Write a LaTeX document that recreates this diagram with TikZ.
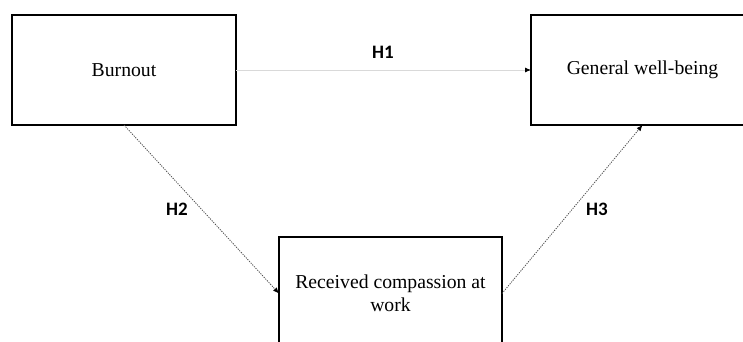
\documentclass[tikz,border=0pt]{standalone}
\usepackage{fontspec}
\setmainfont{Liberation Serif}
\newfontfamily\hfont{Carlito}
\usetikzlibrary{arrows.meta}
\begin{document}
\begin{tikzpicture}[x=1pt,y=-1pt,
  box/.style={draw=black,line width=1.2pt,rectangle,minimum width=223pt,minimum height=110pt,
    inner sep=0pt,outer sep=0pt,font=\fontsize{19.7}{23}\selectfont,align=center},
  hlab/.style={font=\hfont\bfseries\fontsize{19}{20}\selectfont,inner sep=0pt},
  tip/.style={-{Latex[length=6pt,width=5pt,color=black,fill=black]}},
  solidlink/.style={tip,draw=black!15,line width=0.8pt},
  dotlink/.style={tip,draw=black!70,line width=0.8pt,dash pattern=on 1.2pt off 1.2pt}]
\useasboundingbox (0,0) rectangle (743,342);
\fill[white] (0,0) rectangle (743,342);
\clip (0,0) rectangle (743,342);
\node[box,minimum width=224pt] (burn) at (124,70) {Burnout};
\node[box] (gwb) at (642.5,70) {General well-being};
\node[box,minimum height=113pt] (rcw) at (390.5,293.5) {Received compassion at\\work};
\draw[solidlink] (burn.east) -- (gwb.west);
\draw[dotlink] (burn.south) -- (rcw.west);
\draw[dotlink] (rcw.east) -- (gwb.south);
\node[hlab] (h1) at (383,52) {H1};
\node[hlab] (h2) at (177,209) {H2};
\node[hlab] (h3) at (597,209) {H3};
\end{tikzpicture}
\end{document}
